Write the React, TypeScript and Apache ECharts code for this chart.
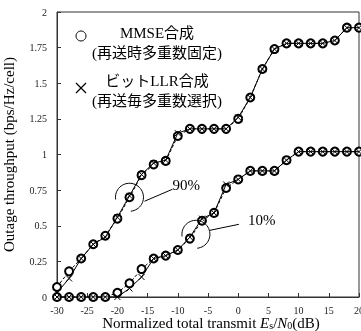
import React, { useEffect, useRef } from "react";
import * as echarts from "echarts";

const snrDb = [-30, -28, -26, -24, -22, -20, -18, -16, -14, -12, -10, -8, -6, -4, -2, 0, 2, 4, 6, 8, 10, 12, 14, 16, 18, 20];
const mmse90 = [0.07, 0.18, 0.27, 0.37, 0.43, 0.55, 0.70, 0.855, 0.93, 0.955, 1.13, 1.18, 1.18, 1.18, 1.18, 1.25, 1.40, 1.60, 1.74, 1.78, 1.78, 1.78, 1.78, 1.80, 1.89, 1.89];
const llr90 = [0.03, 0.13, 0.27, 0.37, 0.42, 0.56, 0.71, 0.86, 0.94, 0.96, 1.15, 1.18, 1.18, 1.18, 1.18, 1.26, 1.40, 1.60, 1.74, 1.78, 1.78, 1.78, 1.78, 1.80, 1.89, 1.89];
const mmse10 = [0, 0, 0, 0, 0, 0.03, 0.096, 0.196, 0.27, 0.29, 0.33, 0.41, 0.535, 0.59, 0.765, 0.825, 0.885, 0.885, 0.885, 0.96, 1.02, 1.02, 1.02, 1.02, 1.02, 1.02];
const llr10 = [0, 0, 0, 0, 0, 0, 0.06, 0.14, 0.27, 0.29, 0.33, 0.42, 0.55, 0.59, 0.79, 0.825, 0.885, 0.885, 0.885, 0.96, 1.02, 1.02, 1.02, 1.02, 1.02, 1.02];
const legendLines = ["MMSE合成", "(再送時多重数固定)", "ビットLLR合成", "(再送毎多重数選択)"];
const yTitle = "Outage throughput (bps/Hz/cell)";
const xTitle = "{n|Normalized total transmit }{i|E}{sub|s}{n|/}{i|N}{sub|0}{n|(dB)}";
const annotationLabels = ["90%", "10%"];
const annotationX = [-18, -7];
const annotationY = [0.70, 0.44];

// pixel offsets of the leader lines and labels (layout only)
const annotationLayout = [
  { l: [15, 4, 43, -8], t: [43, -12] },
  { l: [14, -4, 43, -10], t: [52, -14] },
];

const SERIF = '"Liberation Serif", "Noto Sans CJK JP", serif';
const CROSS = "path://M0,0L10,10M10,0L0,10";

function pairs(ys: number[]) {
  return snrDb.map((x, i) => [x, ys[i]]);
}

function arcPoints(cx: number, cy: number, r: number, a0: number, a1: number) {
  const pts: number[][] = [];
  const n = 40;
  for (let k = 0; k <= n; k++) {
    const a = a0 + ((a1 - a0) * k) / n;
    pts.push([cx + r * Math.cos(a), cy + r * Math.sin(a)]);
  }
  return pts;
}

export default function App() {
  const ref = useRef<HTMLDivElement>(null);
  useEffect(() => {
    if (!ref.current) return;
    const chart = echarts.init(ref.current, undefined, { renderer: "svg" });
    const circleSeries = (data: number[]) => ({
      type: "line",
      data: pairs(data),
      symbol: "emptyCircle",
      symbolSize: 8,
      lineStyle: { color: "#000", width: 1, type: [3, 2] },
      itemStyle: { color: "#000", borderColor: "#000", borderWidth: 1 },
      z: 2,
    });
    const crossSeries = (data: number[]) => ({
      type: "line",
      data: pairs(data),
      symbol: CROSS,
      symbolSize: 6,
      lineStyle: { color: "#000", width: 1 },
      itemStyle: { color: "none", borderColor: "#000", borderWidth: 1 },
      z: 3,
    });
    chart.setOption({
      animation: false,
      grid: { left: 57, right: 2, top: 12, bottom: 34, show: true, borderColor: "#333", borderWidth: 1, outerBoundsMode: "none", containLabel: false },
      xAxis: {
        type: "value",
        min: -30,
        max: 20,
        interval: 5,
        axisLine: { onZero: false, lineStyle: { color: "#333" } },
        axisTick: { inside: true, length: 4, lineStyle: { color: "#333" } },
        axisLabel: { color: "#222", fontSize: 10, fontFamily: SERIF, margin: 8 },
        splitLine: { show: false },
      },
      yAxis: {
        type: "value",
        min: 0,
        max: 2,
        interval: 0.25,
        axisLine: { show: true, onZero: false, lineStyle: { color: "#333" } },
        axisTick: { show: true, inside: true, length: 4, lineStyle: { color: "#333" } },
        axisLabel: { color: "#222", fontSize: 10, fontFamily: SERIF, margin: 10 },
        splitLine: { show: false },
        name: yTitle,
        nameLocation: "middle",
        nameRotate: 90,
        nameGap: 41,
        nameTextStyle: { fontSize: 15, fontFamily: SERIF, color: "#000" },
      },
      series: [circleSeries(mmse90), crossSeries(llr90), circleSeries(mmse10), crossSeries(llr10)],
    });

    const graphics: any[] = [];
    annotationLabels.forEach((label, i) => {
      const p = chart.convertToPixel({ gridIndex: 0 }, [annotationX[i], annotationY[i]]) as number[];
      const [cx, cy] = p;
      const lay = annotationLayout[i];
      graphics.push({
        type: "polyline",
        shape: { points: arcPoints(cx, cy, 14, Math.PI * 0.95, Math.PI * 2.47) },
        style: { stroke: "#000", lineWidth: 1, fill: "none" },
        z: 10,
      });
      graphics.push({
        type: "line",
        shape: { x1: cx + lay.l[0], y1: cy + lay.l[1], x2: cx + lay.l[2], y2: cy + lay.l[3] },
        style: { stroke: "#000", lineWidth: 1 },
        z: 10,
      });
      graphics.push({
        type: "text",
        style: { text: label, x: cx + lay.t[0], y: cy + lay.t[1], align: "left", verticalAlign: "middle", fontSize: 15, fontFamily: SERIF, fill: "#000" },
        z: 10,
      });
    });
    // x-axis title
    graphics.push({
      type: "text",
      style: {
        text: xTitle,
        x: 211,
        y: 323,
        align: "center",
        verticalAlign: "middle",
        fontSize: 15,
        fontFamily: SERIF,
        fill: "#000",
        rich: {
          n: { fontSize: 15, fontFamily: SERIF, fill: "#000", lineHeight: 15, verticalAlign: "bottom" },
          i: { fontSize: 15, fontFamily: SERIF, fontStyle: "italic", fill: "#000", lineHeight: 15, verticalAlign: "bottom" },
          sub: { fontSize: 10, fontFamily: SERIF, fill: "#000", lineHeight: 8, verticalAlign: "bottom" },
        },
      },
    });
    // legend
    graphics.push({
      type: "circle",
      shape: { cx: 81, cy: 36, r: 5 },
      style: { stroke: "#000", lineWidth: 1, fill: "none" },
    });
    graphics.push({ type: "line", shape: { x1: 76, y1: 83, x2: 86, y2: 93 }, style: { stroke: "#000", lineWidth: 1.2 } });
    graphics.push({ type: "line", shape: { x1: 86, y1: 83, x2: 76, y2: 93 }, style: { stroke: "#000", lineWidth: 1.2 } });
    const ys = [33, 53, 81, 101];
    legendLines.forEach((t, i) => {
      graphics.push({
        type: "text",
        style: { text: t, x: 157, y: ys[i], align: "center", verticalAlign: "middle", fontSize: 15, fontFamily: SERIF, fill: "#000" },
      });
    });
    chart.setOption({ graphic: graphics });
    return () => chart.dispose();
  }, []);
  return <div ref={ref} style={{ position: "fixed", left: 0, top: 0, width: 361, height: 331 }} />;
}
